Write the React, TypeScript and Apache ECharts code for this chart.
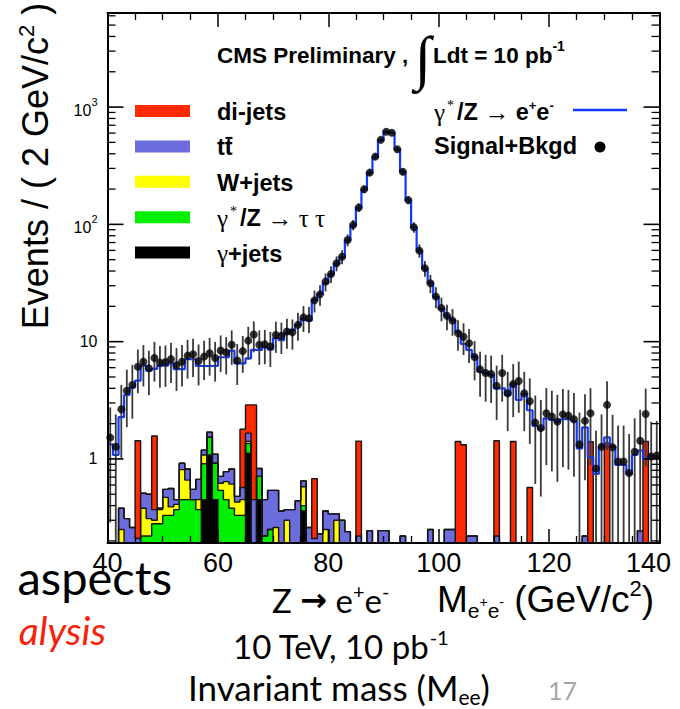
import React, { useEffect, useRef } from "react";
import * as echarts from "echarts";

// Di-electron invariant mass, 1 GeV bins from 40 to 140 GeV/c^2
const MASS_MIN = 40;
const MASS_MAX = 140;
const BIN_WIDTH = 1;
const Y_MIN = 0.192;
const Y_MAX = 6340;
const X_TICK_STEP = 20;

// Pseudo-data (signal + background), events per bin
const signalPlusBkgd = [
  1.52, 1.27, 2.65, 3.82, 4.27, 6.1, 6.75, 5.93, 7.26, 6.62,
  6.7, 7.1, 6.3, 6.75, 7.6, 7.8, 6.85, 7.45, 7.95, 7.26,
  8.4, 8.1, 9.4, 6.9, 8.3, 10.2, 11.5, 9.4, 9.5, 9.1,
  11.4, 11.2, 12.2, 12.0, 13.9, 16.1, 15.8, 22.5, 25.3, 32.5,
  37.8, 46.6, 53, 73.6, 98.8, 139, 199, 276, 378, 525,
  617, 605, 437, 281, 161, 94.5, 59.7, 42.3, 31.5, 24.2,
  19.3, 16.6, 15.1, 11.8, 11.0, 9.7, 7.4, 5.8, 5.4, 5.3,
  4.2, 5.4, 3.63, 4.36, 4.62, 3.63, 3.1, 2.04, 1.83, 2.45,
  2.3, 2.08, 2.4, 2.34, 2.18, 1.33, 2.11, 2.45, 0.83, 1.27,
  2.89, 1.26, 0.95, 0.95, 0.76, 1.15, 1.43, 2.42, 1.05, 1.07,
];

// gamma*/Z -> e+e- simulation, events per bin
const zToEE = [
  1.33, 1.08, 2.27, 3.51, 4.08, 4.65, 6.24, 5.66, 5.85, 6.24,
  6.24, 6.54, 5.82, 5.82, 7.08, 7.08, 6.2, 6.2, 6.2, 6.2,
  7.36, 7.36, 8.4, 6.54, 6.54, 7.2, 8.5, 8.5, 8.96, 8.6,
  10.7, 10.3, 11.8, 12.6, 13.9, 15.8, 15.1, 22.7, 25.5, 31.5,
  37.5, 46, 52.5, 73, 98, 138, 198, 275, 376, 523,
  615, 603, 436, 280, 160, 94, 59.5, 42, 31.5, 24,
  19, 16.6, 15.3, 12.1, 9.55, 8.5, 7.45, 5.55, 5.4, 5.2,
  4.0, 4.0, 3.5, 4.36, 3.18, 3.58, 2.6, 1.91, 1.79, 2.22,
  2.15, 2.08, 2.18, 2.18, 2.1, 1.23, 1.86, 1.03, 0.745, 1.27,
  1.53, 1.27, 0.89, 0.89, 0.745, 1.08, 1.18, 1.0, 1.05, 1.05,
];

// Background contributions as [bin low edge (GeV/c^2), events]
const gammaJets: [number, number][] = [
  [57, 0.45], [58, 1.08], [59, 0.45], [65, 1.12], [67, 0.45], [75, 0.36],
];
const zToTauTau: [number, number][] = [
  [46, 0.22], [47, 0.22], [48, 0.28], [49, 0.28], [50, 0.33], [51, 0.33],
  [52, 0.37], [53, 0.45], [54, 0.45], [55, 0.45], [56, 0.37], [57, 0.46],
  [58, 0.45], [59, 0.47], [60, 0.54], [61, 0.45], [62, 0.38], [63, 0.33],
  [64, 0.33], [65, 0.23], [67, 0.26], [68, 0.22], [69, 0.25], [75, 0.04],
];
const wJets: [number, number][] = [
  [42, 0.25], [46, 0.16], [47, 0.09], [48, 0.02], [49, 0.09], [50, 0.14],
  [51, 0.06], [52, 0.04], [53, 0.36], [54, 0.21], [56, 0.08], [57, 0.17],
  [60, 0.08], [61, 0.19], [62, 0.23], [63, 0.1], [64, 0.12], [65, 0.06],
  [70, 0.26], [72, 0.3], [75, 0.18], [79, 0.25], [81, 0.3],
];
const ttbar: [number, number][] = [
  [42, 0.13], [43, 0.31], [44, 0.26], [45, 0.21], [46, 0.13], [47, 0.19],
  [48, 0.07], [49, 0.01], [50, 0.08], [51, 0.17], [52, 0.04], [53, 0.11],
  [54, 0.16], [55, 0.1], [56, 0.22], [57, 0.11], [58, 0.16], [59, 0.18],
  [60, 0.09], [61, 0.14], [62, 0.21], [63, 0.05], [64, 0.12], [65, 0.25],
  [66, 0.45], [67, 0.12], [68, 0.23], [69, 0.29], [70, 0.28], [71, 0.36],
  [72, 0.07], [73, 0.37], [74, 0.44], [75, 0.07], [76, 0.26], [77, 0.21],
  [78, 0.23], [79, 0.11], [80, 0.34], [81, 0.04], [82, 0.3], [83, 0.24],
  [85, 0.22], [87, 0.245], [89, 0.245], [90, 0.245], [93, 0.22], [98, 0.25],
  [101, 0.25], [102, 0.25], [105, 0.22], [106, 0.22], [110, 0.22],
  [126, 0.22], [136, 0.245],
];
const diJets: [number, number][] = [
  [45, 1.22], [48, 1.2], [64, 1.22], [65, 1.23], [66, 2.44], [77, 0.47],
  [85, 1.2], [103, 1.41], [104, 1.32], [110, 1.21], [113, 1.41], [116, 0.57],
  [127, 1.4], [130, 1.37], [137, 1.41],
];

const SANS = "'Liberation Sans', Arial, Helvetica, sans-serif";
const SERIF = "'Liberation Serif', 'Times New Roman', serif";
const SLIDE = "Lato, 'Open Sans', sans-serif";

const N_BINS = Math.round((MASS_MAX - MASS_MIN) / BIN_WIDTH);
const FLOOR = 1e-3; // empty bins sit below the log axis range

function toBins(entries: [number, number][]): number[] {
  const arr = new Array(N_BINS).fill(0);
  entries.forEach(([m, v]) => {
    arr[Math.round((m - MASS_MIN) / BIN_WIDTH)] += v;
  });
  return arr;
}

// Histogram outline as points at bin low edges, drawn with step: 'end'
function stepData(vals: number[]): [number, number][] {
  const pts: [number, number][] = vals.map((v, i) => [
    MASS_MIN + i * BIN_WIDTH,
    v > 0 ? v : FLOOR,
  ]);
  pts.push([MASS_MAX, pts[pts.length - 1][1]]);
  return pts;
}

// Stack, bottom to top
const components = [
  { key: "gj", bins: toBins(gammaJets), color: "#000000" },
  { key: "ztt", bins: toBins(zToTauTau), color: "#00f000" },
  { key: "wj", bins: toBins(wJets), color: "#ffff00" },
  { key: "tt", bins: toBins(ttbar), color: "#6c6cdd" },
  { key: "dj", bins: toBins(diJets), color: "#ff2a00" },
];

function buildOption() {
  let running = new Array(N_BINS).fill(0);
  const layers = components.map((c) => {
    running = running.map((r, i) => r + c.bins[i]);
    return { ...c, cum: running };
  });

  const stackSeries = layers
    .slice()
    .reverse()
    .map((layer) => ({
      type: "line",
      step: "end",
      data: stepData(layer.cum),
      showSymbol: false,
      symbol: "none",
      clip: true,
      silent: true,
      z: 2,
      lineStyle: { color: "#141414", width: 1.4 },
      areaStyle: { color: layer.color, opacity: 1, origin: "start" },
    }));

  const centres = signalPlusBkgd.map(
    (v, i) => [MASS_MIN + (i + 0.5) * BIN_WIDTH, v] as [number, number]
  );

  const yTickValues: number[] = [];
  for (let e = -1; e <= 3; e++) {
    for (let j = 1; j <= 9; j++) {
      const v = j * Math.pow(10, e);
      if (v >= Y_MIN && v <= Y_MAX) yTickValues.push(v);
    }
  }

  const legendRich = {
    b: { fontFamily: SANS, fontWeight: "bold", fontSize: 23.5, verticalAlign: "middle" },
    g: { fontFamily: SERIF, fontSize: 25, verticalAlign: "middle" },
    gs: { fontFamily: SERIF, fontSize: 14, verticalAlign: "middle", padding: [0, 3, 14, 2] },
    bs: { fontFamily: SANS, fontWeight: "bold", fontSize: 13, verticalAlign: "middle", padding: [0, 0, 13, 0] },
  };

  const legendRows = [
    { text: "{b|di-jets}", color: "#ff2a00" },
    { text: "{b|tt}", color: "#6c6cdd" },
    { text: "{b|W+jets}", color: "#ffff00" },
    { text: "{g|γ}{gs|*}{b|/Z }{g|→ τ τ}", color: "#00f000" },
    { text: "{g|γ}{b|+jets}", color: "#000000" },
  ];
  const legendTop = 111;
  const legendStep = 35.4;

  const legendGraphics: any[] = [];
  legendRows.forEach((row, i) => {
    const cy = legendTop + i * legendStep;
    legendGraphics.push({
      type: "rect",
      shape: { x: 135, y: cy - 6, width: 55, height: 12 },
      style: { fill: row.color },
      silent: true,
    });
    legendGraphics.push({
      type: "text",
      x: 217,
      y: cy + 1,
      style: { text: row.text, rich: legendRich, fill: "#000", align: "left", verticalAlign: "middle" },
      silent: true,
    });
  });
  // bar over the second t of t-tbar
  legendGraphics.push({
    type: "line",
    shape: { x1: 225.5, y1: legendTop + legendStep - 8.5, x2: 232.5, y2: legendTop + legendStep - 8.5 },
    style: { stroke: "#000", lineWidth: 2 },
    silent: true,
  });

  const slideRich = {
    r: { fontFamily: SLIDE, fontSize: 33, verticalAlign: "middle" },
    a: { fontFamily: "'DejaVu Sans', sans-serif", fontWeight: "bold", fontSize: 32, verticalAlign: "middle" },
    s: { fontFamily: SLIDE, fontSize: 20, verticalAlign: "middle", padding: [0, 0, 19, 0] },
    sub: { fontFamily: SLIDE, fontSize: 20, verticalAlign: "middle", padding: [19, 0, 0, 0] },
  };
  const massRich = {
    r: { fontFamily: SLIDE, fontSize: 35, verticalAlign: "middle" },
    sub: { fontFamily: SLIDE, fontSize: 21, verticalAlign: "middle", padding: [19, 0, 0, 0] },
  };

  const graphics: any[] = [
    // y-axis title
    {
      type: "text",
      x: 35,
      y: 166,
      rotation: Math.PI / 2,
      style: {
        text: "{r|Events / ( 2 GeV/c}{s|2}{r| )}",
        rich: {
          r: { fontFamily: SANS, fontSize: 36, verticalAlign: "middle" },
          s: { fontFamily: SANS, fontSize: 22, verticalAlign: "middle", padding: [0, 0, 18, 0] },
        },
        fill: "#000",
        align: "center",
        verticalAlign: "middle",
      },
      silent: true,
    },
    // x-axis title
    {
      type: "text",
      x: 437,
      y: 599,
      style: {
        text: "{r|M}{sub|e}{ss|+}{sub|e}{ss|-}{r| (GeV/c}{sup|2}{r|)}",
        rich: {
          r: { fontFamily: SANS, fontSize: 37, verticalAlign: "middle" },
          sub: { fontFamily: SANS, fontSize: 21, verticalAlign: "middle", padding: [22, 0, 0, 0] },
          ss: { fontFamily: SANS, fontSize: 14, verticalAlign: "middle", padding: [6, 0, 0, 0] },
          sup: { fontFamily: SANS, fontSize: 22, verticalAlign: "middle", padding: [0, 0, 22, 0] },
        },
        fill: "#000",
        align: "left",
        verticalAlign: "middle",
      },
      silent: true,
    },
    // header
    {
      type: "text",
      x: 217,
      y: 55,
      style: {
        text: "{t|CMS Preliminary , }{i|∫}{t|Ldt = 10 pb}{s|-1}",
        rich: {
          t: { fontFamily: SANS, fontWeight: "bold", fontSize: 22.5, verticalAlign: "middle" },
          i: { fontFamily: SERIF, fontSize: 60, verticalAlign: "middle", padding: [6, 2, 0, 0] },
          s: { fontFamily: SANS, fontWeight: "bold", fontSize: 14, verticalAlign: "middle", padding: [0, 0, 18, 0] },
        },
        fill: "#000",
        align: "left",
        verticalAlign: "middle",
      },
      silent: true,
    },
    ...legendGraphics,
    // signal / data legend
    {
      type: "text",
      x: 434,
      y: 112,
      style: {
        text: "{g|γ}{gs|*}{b|/Z }{g|→ }{b|e}{bs|+}{b|e}{bs|-}",
        rich: legendRich,
        fill: "#000",
        align: "left",
        verticalAlign: "middle",
      },
      silent: true,
    },
    {
      type: "line",
      shape: { x1: 573, y1: 110, x2: 627, y2: 110 },
      style: { stroke: "#1238ff", lineWidth: 2.4 },
      silent: true,
    },
    {
      type: "text",
      x: 434,
      y: 146,
      style: { text: "{b|Signal+Bkgd}", rich: legendRich, fill: "#000", align: "left", verticalAlign: "middle" },
      silent: true,
    },
    {
      type: "circle",
      shape: { cx: 600, cy: 147, r: 5.5 },
      style: { fill: "#000" },
      silent: true,
    },
    // slide text around the figure
    {
      type: "text",
      x: 172,
      y: 577,
      style: { text: "aspects", fontFamily: SLIDE, fontSize: 47, fill: "#000", align: "right", verticalAlign: "middle" },
      silent: true,
    },
    {
      type: "text",
      x: 106,
      y: 630,
      style: {
        text: "alysis",
        fontFamily: SLIDE,
        fontSize: 39,
        fontStyle: "italic",
        fill: "#f5230a",
        align: "right",
        verticalAlign: "middle",
      },
      silent: true,
    },
    {
      type: "text",
      x: 272,
      y: 600,
      style: { text: "{r|Z }{a|→}{r| e}{s|+}{r|e}{s|-}", rich: slideRich, fill: "#000", align: "left", verticalAlign: "middle" },
      silent: true,
    },
    {
      type: "text",
      x: 233,
      y: 646,
      style: { text: "{r|10 TeV, 10 pb}{s|-1}", rich: slideRich, fill: "#000", align: "left", verticalAlign: "middle" },
      silent: true,
    },
    {
      type: "text",
      x: 188,
      y: 687,
      style: { text: "{r|Invariant mass (M}{sub|ee}{r|)}", rich: massRich, fill: "#000", align: "left", verticalAlign: "middle" },
      silent: true,
    },
    {
      type: "text",
      x: 548,
      y: 690,
      style: { text: "17", fontFamily: SLIDE, fontSize: 25, fill: "#a6a6a6", align: "left", verticalAlign: "middle" },
      silent: true,
    },
  ];

  const xAxisBase = {
    type: "value",
    min: MASS_MIN,
    max: MASS_MAX,
    interval: X_TICK_STEP,
    z: 10,
    splitLine: { show: false },
    axisLine: { show: true, lineStyle: { color: "#000", width: 2 } },
    axisTick: { show: true, inside: true, length: 14, lineStyle: { color: "#000", width: 1.5 } },
    minorTick: { show: true, splitNumber: 4, length: 7, lineStyle: { color: "#000", width: 1.3 } },
  };

  return {
    animation: false,
    backgroundColor: "#ffffff",
    grid: { left: 107.5, right: 20.5, top: 13, bottom: 166, containLabel: false },
    xAxis: [
      {
        ...xAxisBase,
        position: "bottom",
        axisLabel: {
          show: true,
          margin: 6,
          color: "#000",
          fontFamily: SANS,
          fontSize: 27,
          formatter: (v: number) => (v === MASS_MAX ? "{e|" + v + "}" : String(v)),
          rich: { e: { fontFamily: SANS, fontSize: 27, color: "#000", padding: [0, 22, 0, 0] } },
        },
      },
      { ...xAxisBase, position: "top", axisLabel: { show: false } },
    ],
    yAxis: [
      {
        type: "log",
        logBase: 10,
        min: Y_MIN,
        max: Y_MAX,
        position: "left",
        z: 10,
        splitLine: { show: false },
        axisTick: { show: false },
        minorTick: { show: false },
        axisLine: { show: true, lineStyle: { color: "#000", width: 2 } },
        axisLabel: {
          show: true,
          margin: 10,
          showMinLabel: false,
          showMaxLabel: false,
          color: "#000",
          formatter: (v: number) => {
            const e = Math.log10(v);
            const r = Math.round(e);
            if (Math.abs(e - r) > 1e-6) return "";
            if (r <= 1) return "{p|" + Math.pow(10, r) + "}";
            return "{b|10}{s|" + r + "}";
          },
          rich: {
            p: { fontFamily: SANS, fontSize: 16, color: "#000" },
            b: { fontFamily: SANS, fontSize: 16, color: "#000", verticalAlign: "middle", padding: [7, 0, 0, 0] },
            s: { fontFamily: SANS, fontSize: 11, color: "#000", verticalAlign: "middle", padding: [0, 0, 10, 0] },
          },
        },
      },
      {
        type: "log",
        logBase: 10,
        min: Y_MIN,
        max: Y_MAX,
        position: "right",
        z: 10,
        splitLine: { show: false },
        axisTick: { show: false },
        minorTick: { show: false },
        axisLabel: { show: false },
        axisLine: { show: true, lineStyle: { color: "#000", width: 2 } },
      },
    ],
    graphic: graphics,
    series: [
      ...stackSeries,
      {
        type: "line",
        step: "end",
        data: stepData(zToEE),
        showSymbol: false,
        symbol: "none",
        clip: true,
        silent: true,
        z: 3,
        lineStyle: { color: "#1238ff", width: 2.2 },
      },
      {
        // Poisson error bars on the pseudo-data
        type: "custom",
        data: centres,
        clip: true,
        silent: true,
        z: 4,
        renderItem: (_params: any, api: any) => {
          const x = api.value(0);
          const v = api.value(1);
          const err = Math.sqrt(v);
          const lo = Math.max(v - err, Y_MIN);
          const p1 = api.coord([x, lo]);
          const p2 = api.coord([x, v + err]);
          return {
            type: "line",
            shape: { x1: p1[0], y1: p1[1], x2: p2[0], y2: p2[1] },
            style: { stroke: "#3a3a3a", lineWidth: 1.8 },
          };
        },
      },
      {
        type: "scatter",
        data: centres,
        symbol: "circle",
        symbolSize: 8,
        silent: true,
        z: 5,
        itemStyle: { color: "#000" },
      },
      {
        // log-axis ticks at 1..9 x 10^k on both vertical frame sides
        type: "custom",
        data: yTickValues.map((v) => [MASS_MIN, v]),
        silent: true,
        z: 10,
        renderItem: (_params: any, api: any) => {
          const v = api.value(1);
          const e = Math.log10(v);
          const major = Math.abs(e - Math.round(e)) < 1e-6;
          const len = major ? 16 : 8;
          const left = api.coord([MASS_MIN, v]);
          const right = api.coord([MASS_MAX, v]);
          const style = { stroke: "#000", lineWidth: major ? 1.6 : 1.3 };
          return {
            type: "group",
            children: [
              { type: "line", shape: { x1: left[0], y1: left[1], x2: left[0] + len, y2: left[1] }, style },
              { type: "line", shape: { x1: right[0], y1: right[1], x2: right[0] - len, y2: right[1] }, style },
            ],
          };
        },
      },
    ],
  };
}

export default function App() {
  const ref = useRef<HTMLDivElement>(null);
  useEffect(() => {
    if (!ref.current) return;
    const chart = echarts.init(ref.current, null, { renderer: "svg" });
    chart.setOption(buildOption() as any);
    return () => chart.dispose();
  }, []);
  return (
    <div
      ref={ref}
      style={{ position: "fixed", left: 0, top: 0, width: 680, height: 709, background: "#fff" }}
    />
  );
}
